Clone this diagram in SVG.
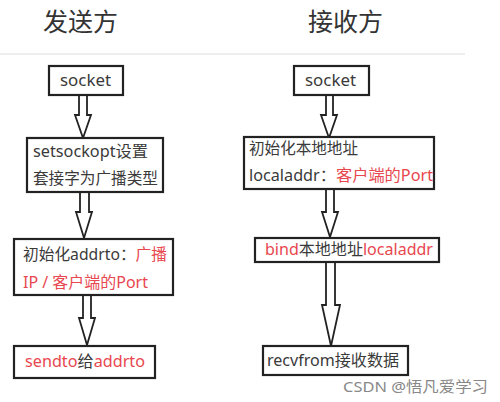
<svg xmlns="http://www.w3.org/2000/svg" width="500" height="402" viewBox="0 0 500 402">
<style>
.t{font-family:"Noto Sans","Noto Sans CJK SC",sans-serif;font-size:15.5px;fill:#3a3a3a}
.r{fill:#e8474f}
.h{font-family:"Noto Sans CJK SC",sans-serif;font-size:25px;fill:#333}
.box{fill:#fff;stroke:#222;stroke-width:2.2}
.arr{fill:#fff;stroke:#222;stroke-width:1.8;stroke-linejoin:miter}
</style>
<rect width="500" height="402" fill="#fff"/>
<text class="h" x="43" y="31" textLength="75" lengthAdjust="spacingAndGlyphs">发送方</text>
<text class="h" x="308" y="31" textLength="75" lengthAdjust="spacingAndGlyphs">接收方</text>
<line x1="0" y1="54" x2="465" y2="54" stroke="#ddd" stroke-width="1"/>
<g id="connectors">
<polygon class="arr" points="79,95 87,95 87,115 91,115 83,138 75,115 79,115"/>
<polygon class="arr" points="80,192 89,192 89,212 92,212 84,238 76,212 80,212"/>
<polygon class="arr" points="83,295 91,295 91,318 95,318 87,345 79,318 83,318"/>
<polygon class="arr" points="326,95 333,95 333,115 337,115 329,138 321,115 326,115"/>
<polygon class="arr" points="326,189 334,189 334,212 338,212 330,237 322,212 326,212"/>
<polygon class="arr" points="326,262 335,262 335,305 340,305 331,346 322,305 326,305"/>
</g>
<g id="s1"><rect class="box" x="49" y="66" width="74" height="29"/><text class="t" x="60" y="86" textLength="51" lengthAdjust="spacingAndGlyphs">socket</text></g>
<g id="s2"><rect class="box" x="27" y="138" width="136" height="54"/><text class="t" x="33" y="157" textLength="115" lengthAdjust="spacingAndGlyphs">setsockopt设置</text><text class="t" x="33" y="184" textLength="125" lengthAdjust="spacingAndGlyphs">套接字为广播类型</text></g>
<g id="s3"><rect class="box" x="14" y="239" width="159" height="56"/><text class="t" x="23" y="260" textLength="144" lengthAdjust="spacingAndGlyphs">初始化addrto：<tspan class="r">广播</tspan></text><text class="t r" x="23" y="288" textLength="125" lengthAdjust="spacingAndGlyphs">IP / 客户端的Port</text></g>
<g id="s4"><rect class="box" x="14" y="346" width="141" height="32"/><text class="t" x="25" y="367" textLength="120" lengthAdjust="spacingAndGlyphs"><tspan class="r">sendto</tspan>给<tspan class="r">addrto</tspan></text></g>
<g id="r1"><rect class="box" x="294" y="66" width="75" height="29"/><text class="t" x="305" y="86" textLength="51" lengthAdjust="spacingAndGlyphs">socket</text></g>
<g id="r2"><rect class="box" x="244" y="137" width="190" height="52"/><text class="t" x="249" y="154" textLength="109" lengthAdjust="spacingAndGlyphs">初始化本地地址</text><text class="t" x="249" y="181" textLength="184" lengthAdjust="spacingAndGlyphs">localaddr：<tspan class="r">客户端的Port</tspan></text></g>
<g id="r3"><rect class="box" x="255" y="238" width="184" height="24"/><text class="t" x="265" y="255" textLength="168" lengthAdjust="spacingAndGlyphs"><tspan class="r">bind</tspan>本地地址<tspan class="r">localaddr</tspan></text></g>
<g id="r4"><rect class="box" x="263" y="346" width="145" height="29"/><text class="t" x="267" y="366" textLength="132" lengthAdjust="spacingAndGlyphs">recvfrom接收数据</text></g>
<text x="343" y="392" font-family="'Noto Sans','Noto Sans CJK SC',sans-serif" font-size="15" fill="#888" textLength="145" lengthAdjust="spacingAndGlyphs">CSDN @悟凡爱学习</text>
</svg>
